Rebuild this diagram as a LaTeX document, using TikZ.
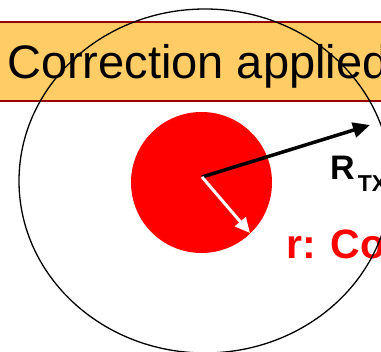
\documentclass[tikz,border=0pt]{standalone}
\usepackage{fontspec}
\setmainfont{Liberation Sans}
\usetikzlibrary{arrows.meta}
\definecolor{bannerfill}{HTML}{FFCC66}
\definecolor{bannerline}{HTML}{990000}
\definecolor{discred}{HTML}{FF0000}

\begin{document}
\begin{tikzpicture}[x=1pt, y=-1pt, every node/.style={inner sep=0pt, anchor=base west}]
    \useasboundingbox (0,0) rectangle (381,352);
    \clip (0,0) rectangle (381,352);
    % banner across the top
    \fill[bannerfill] (-5,22) rectangle (390,101);
    \draw[bannerline, line width=2pt] (-5,22) -- (390,22) (-5,101) -- (390,101);
    \node (title) at (7,79) {\fontsize{47}{56}\selectfont Correction applied};
    % red disc and radii
    \node[circle, fill=discred, minimum size=141pt, anchor=center] (disc) at (201.5,182.5) {};
    \coordinate (o) at (202,177);
    \coordinate (rtx) at (370,125);
    \coordinate (rco) at (250,233);
    \draw[-{Triangle[length=17pt, width=15pt]}, line width=3.5pt] (o) -- (rtx);
    \draw[-{Triangle[length=15pt, width=14pt]}, white, line width=3pt] (o) -- (rco);
    \node (R) at (330,179.5) {\fontsize{34}{40}\selectfont\bfseries R\hspace{3pt}\raisebox{-12.5pt}{\fontsize{23}{28}\selectfont TX}};
    \node[text=discred] (r) at (286,258.5) {\fontsize{41}{48}\selectfont\bfseries r: Co};
    % outer circle
    \draw[line width=1.3pt] (205,181) ellipse [x radius=186, y radius=172];
\end{tikzpicture}
\end{document}
